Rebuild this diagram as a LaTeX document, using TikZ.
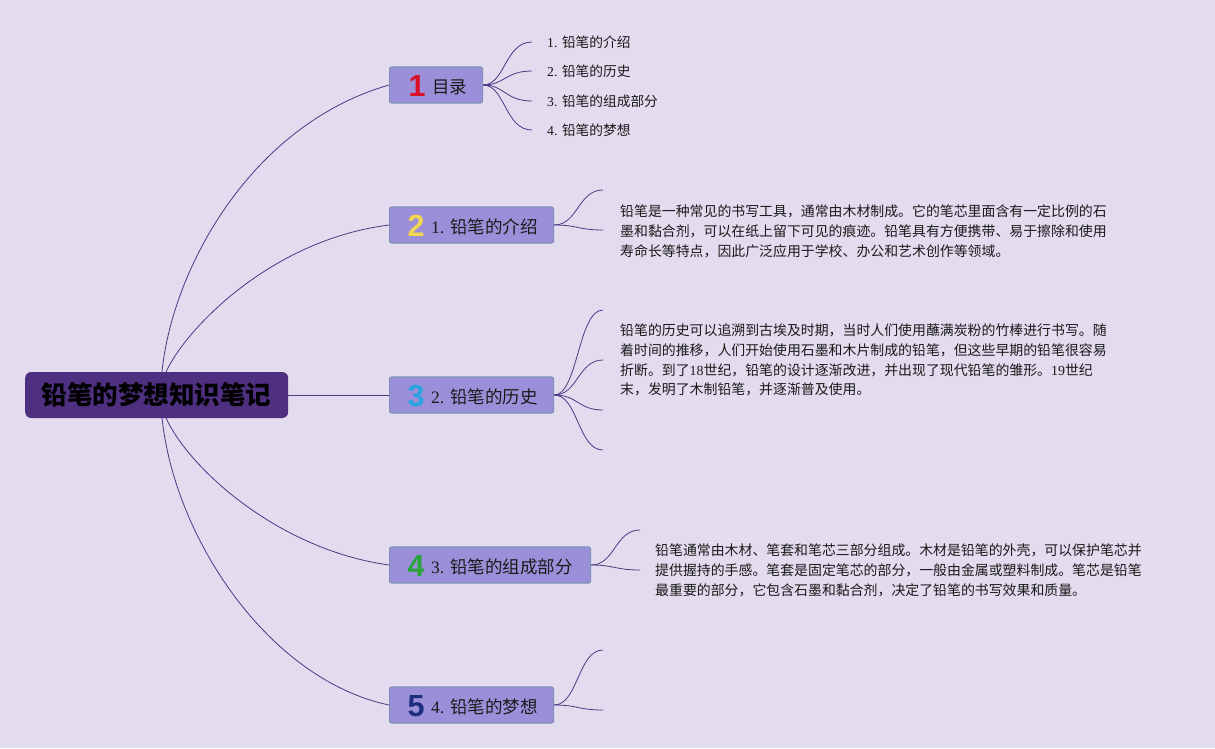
\documentclass[tikz,border=0pt]{standalone}
\usepackage{fontspec}
\setmainfont{Liberation Serif}
\newfontfamily\cjk{Noto Sans CJK SC}
\newfontfamily\lat{Liberation Serif}
\newfontfamily\digf{Liberation Sans}
\definecolor{bg}{HTML}{E3DBEE}
\definecolor{boxfill}{HTML}{9C8FDA}
\definecolor{boxline}{HTML}{7C91B5}
\definecolor{rootfill}{HTML}{4E2F80}
\definecolor{wire}{HTML}{4A3A85}
\definecolor{ink}{HTML}{1A1A1A}
\definecolor{dred}{HTML}{D8102A}
\definecolor{dyel}{HTML}{F2D64B}
\definecolor{dblue}{HTML}{29A3E0}
\definecolor{dgreen}{HTML}{2AA43A}
\definecolor{dnavy}{HTML}{1F2F7F}
\tikzset{
  l1box/.style={draw=boxline, fill=boxfill, rounded corners=2pt, line width=1.1pt, minimum height=36pt, inner sep=0pt, anchor=west},
  rootbox/.style={fill=rootfill, rounded corners=6pt, minimum width=263pt, minimum height=46pt, inner sep=0pt, anchor=west, text=black, font=\cjk\bfseries\fontsize{25.5}{30}\selectfont},
  digit/.style={inner sep=0pt, font=\digf\bfseries\fontsize{30.5}{32}\selectfont},
  l1txt/.style={inner sep=0pt, anchor=west, text=ink, font=\cjk\fontsize{17.5}{20}\selectfont},
  leaf/.style={inner xsep=15pt, inner ysep=0pt, anchor=west, text=ink, font=\cjk\fontsize{13.7}{16}\selectfont},
  para/.style={inner sep=0pt, anchor=north west, align=left, text=ink, font=\cjk\fontsize{13.9}{19.6}\selectfont},
  wirestyle/.style={draw=wire, line width=0.8pt},
}
\begin{document}
\begin{tikzpicture}[x=1pt,y=-1pt]
\fill[bg] (0,0) rectangle (1215,748);
% root
\node[rootbox] (root) at (25,395) {铅笔的梦想知识笔记};
% level-1 boxes
\node[l1box, minimum width=93pt] (toc) at (389,85) {};
\node[l1box, minimum width=164pt] (n2) at (389,225) {};
\node[l1box, minimum width=164pt] (n3) at (389,395) {};
\node[l1box, minimum width=201pt] (n4) at (389,565) {};
\node[l1box, minimum width=164pt] (n5) at (389,705) {};
\node[digit, text=dred] (d1) at (417,86) {1};
\node[digit, text=dyel] (d2) at (416,226) {2};
\node[digit, text=dblue] (d3) at (416,396) {3};
\node[digit, text=dgreen] (d4) at (416,566) {4};
\node[digit, text=dnavy] (d5) at (416,706) {5};
\node[l1txt] (t1) at (432,87) {目录};
\node[l1txt] (t2) at (431,227) {{\lat 1. }铅笔的介绍};
\node[l1txt] (t3) at (431,397) {{\lat 2. }铅笔的历史};
\node[l1txt] (t4) at (431,567) {{\lat 3. }铅笔的组成部分};
\node[l1txt] (t5) at (431,707) {{\lat 4. }铅笔的梦想};
% root connectors
\coordinate (ra) at (162,372);
\coordinate (rb) at (166,372);
\coordinate (rc) at (162,418);
\coordinate (rd) at (166,418);
\draw[wirestyle] (ra) .. controls (172,270) and (250,125) .. (toc.west);
\draw[wirestyle] (rb) .. controls (185,330) and (270,240) .. (n2.west);
\draw[wirestyle] (root.east) -- (n3.west);
\draw[wirestyle] (rd) .. controls (190,470) and (280,550) .. (n4.west);
\draw[wirestyle] (rc) .. controls (175,540) and (270,680) .. (n5.west);
% TOC leaves
\node[leaf] (c1) at (532,42) {{\lat 1. }铅笔的介绍};
\node[leaf] (c2) at (532,71) {{\lat 2. }铅笔的历史};
\node[leaf] (c3) at (532,101) {{\lat 3. }铅笔的组成部分};
\node[leaf] (c4) at (532,130) {{\lat 4. }铅笔的梦想};
\foreach \c in {c1,c2,c3,c4}
  \draw[wirestyle] (toc.east) .. controls (505,85) and (505,85 |- \c.west) .. (\c.west);
% intro
\coordinate (e21) at (603,190);
\coordinate (e22) at (603,230);
\foreach \c in {e21,e22}
  \draw[wirestyle] (n2.east) .. controls (578,225) and (578,225 |- \c) .. (\c);
\node[para] (p1) at (620,205) {铅笔是一种常见的书写工具，通常由木材制成。它的笔芯里面含有一定比例的石\\墨和黏合剂，可以在纸上留下可见的痕迹。铅笔具有方便携带、易于擦除和使用\\寿命长等特点，因此广泛应用于学校、办公和艺术创作等领域。};
% history
\coordinate (e31) at (603,310);
\coordinate (e32) at (603,360);
\coordinate (e33) at (603,410);
\coordinate (e34) at (603,450);
\foreach \c in {e31,e32,e33,e34}
  \draw[wirestyle] (n3.east) .. controls (578,395) and (578,395 |- \c) .. (\c);
\node[para] (p2) at (620,324) {铅笔的历史可以追溯到古埃及时期，当时人们使用蘸满炭粉的竹棒进行书写。随\\着时间的推移，人们开始使用石墨和木片制成的铅笔，但这些早期的铅笔很容易\\折断。到了{\lat 18}世纪，铅笔的设计逐渐改进，并出现了现代铅笔的雏形。{\lat 19}世纪\\末，发明了木制铅笔，并逐渐普及使用。};
% parts
\coordinate (e41) at (640,530);
\coordinate (e42) at (640,570);
\foreach \c in {e41,e42}
  \draw[wirestyle] (n4.east) .. controls (615,565) and (615,565 |- \c) .. (\c);
\node[para] (p3) at (655,544) {铅笔通常由木材、笔套和笔芯三部分组成。木材是铅笔的外壳，可以保护笔芯并\\提供握持的手感。笔套是固定笔芯的部分，一般由金属或塑料制成。笔芯是铅笔\\最重要的部分，它包含石墨和黏合剂，决定了铅笔的书写效果和质量。};
% dream
\coordinate (e51) at (603,650);
\coordinate (e52) at (603,710);
\foreach \c in {e51,e52}
  \draw[wirestyle] (n5.east) .. controls (578,705) and (578,705 |- \c) .. (\c);
\end{tikzpicture}
\end{document}
